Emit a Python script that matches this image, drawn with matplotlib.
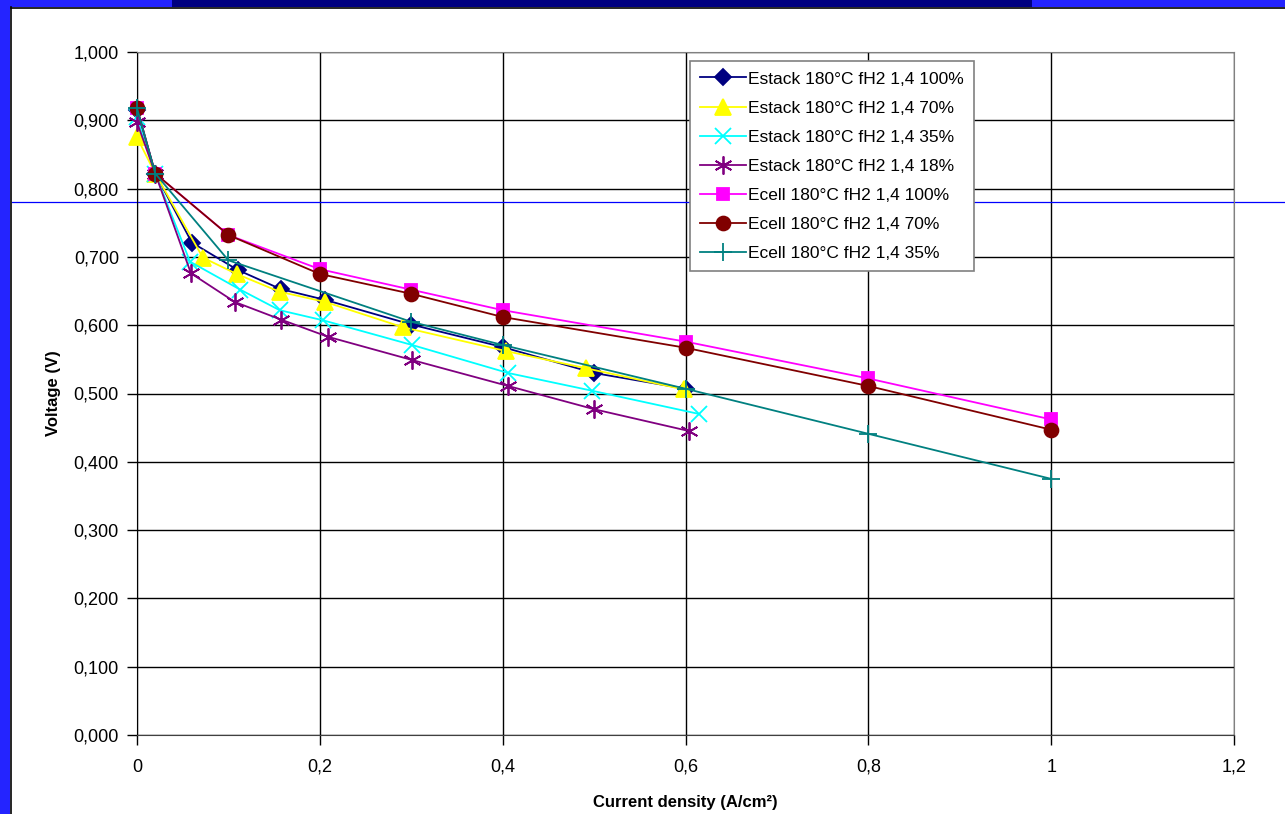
import matplotlib
matplotlib.use("Agg")
import matplotlib.pyplot as plt
from matplotlib.lines import Line2D
from matplotlib.patches import Rectangle
from matplotlib.ticker import FuncFormatter

plt.rcParams["font.family"] = ["Liberation Sans", "DejaVu Sans"]

# --------------------------------------------------------------------
# Data
# --------------------------------------------------------------------

estack_100_x = [0, 0.02, 0.06, 0.11, 0.157, 0.206, 0.30, 0.40, 0.50, 0.60]
estack_100_y = [0.915, 0.822, 0.721, 0.681, 0.653, 0.637, 0.601, 0.568, 0.530, 0.507]

estack_70_x = [0, 0.02, 0.072, 0.109, 0.156, 0.206, 0.291, 0.404, 0.491, 0.598]
estack_70_y = [0.875, 0.822, 0.699, 0.675, 0.649, 0.634, 0.597, 0.562, 0.537, 0.506]

estack_35_x = [0, 0.02, 0.058, 0.113, 0.156, 0.204, 0.301, 0.406, 0.498, 0.615]
estack_35_y = [0.905, 0.822, 0.693, 0.652, 0.622, 0.607, 0.571, 0.530, 0.504, 0.470]

estack_18_x = [0, 0.02, 0.059, 0.107, 0.158, 0.209, 0.301, 0.406, 0.500, 0.604]
estack_18_y = [0.897, 0.822, 0.676, 0.634, 0.608, 0.583, 0.549, 0.511, 0.477, 0.445]

ecell_100_x = [0, 0.02, 0.1, 0.2, 0.3, 0.4, 0.6, 0.8, 1.0]
ecell_100_y = [0.918, 0.822, 0.732, 0.682, 0.652, 0.622, 0.576, 0.522, 0.462]

ecell_70_x = [0, 0.02, 0.1, 0.2, 0.3, 0.4, 0.6, 0.8, 1.0]
ecell_70_y = [0.918, 0.822, 0.732, 0.675, 0.646, 0.612, 0.567, 0.511, 0.447]

ecell_35_x = [0, 0.02, 0.1, 0.3, 0.4, 0.6, 0.8, 1.0]
ecell_35_y = [0.918, 0.822, 0.695, 0.605, 0.571, 0.507, 0.441, 0.375]

series = [
    ("Estack 180°C fH2 1,4 100%", estack_100_x, estack_100_y, "#000080", "D", 8),
    ("Estack 180°C fH2 1,4 70%", estack_70_x, estack_70_y, "#FFFF00", "^", 11),
    ("Estack 180°C fH2 1,4 35%", estack_35_x, estack_35_y, "#00FFFF", "x", 11),
    ("Estack 180°C fH2 1,4 18%", estack_18_x, estack_18_y, "#800080", (6, 2, 0), 13),
    ("Ecell 180°C fH2 1,4 100%", ecell_100_x, ecell_100_y, "#FF00FF", "s", 9),
    ("Ecell 180°C fH2 1,4 70%", ecell_70_x, ecell_70_y, "#800000", "o", 10),
    ("Ecell 180°C fH2 1,4 35%", ecell_35_x, ecell_35_y, "#008080", "+", 13),
]

# --------------------------------------------------------------------
# Figure
# --------------------------------------------------------------------

fig = plt.figure(figsize=(12.85, 8.14), dpi=100)
fig.patch.set_facecolor("white")

# slide frame (blue border around the chart)
fig.add_artist(Rectangle((0, 0), 10 / 1285, 1, transform=fig.transFigure,
                         facecolor="#2424ff", edgecolor="none"))
fig.add_artist(Rectangle((0, 1 - 7 / 814), 172 / 1285, 7 / 814, transform=fig.transFigure,
                         facecolor="#2424ff", edgecolor="none"))
fig.add_artist(Rectangle((172 / 1285, 1 - 7 / 814), 860 / 1285, 7 / 814, transform=fig.transFigure,
                         facecolor="#000080", edgecolor="none"))
fig.add_artist(Rectangle((1032 / 1285, 1 - 7 / 814), 253 / 1285, 7 / 814, transform=fig.transFigure,
                         facecolor="#2424ff", edgecolor="none"))
fig.add_artist(Line2D([10.5 / 1285, 10.5 / 1285], [0, 1 - 7 / 814], transform=fig.transFigure,
                      color="black", linewidth=1.2))
fig.add_artist(Line2D([10.5 / 1285, 1], [1 - 7.5 / 814, 1 - 7.5 / 814], transform=fig.transFigure,
                      color="black", linewidth=1.2))

ax = fig.add_axes([137 / 1285, 1 - 735 / 814, 1097 / 1285, 683 / 814])

for label, xs, ys, color, marker, size in series:

    ax.plot(xs, ys, color=color, linewidth=1.3, marker=marker, markersize=size,
            markerfacecolor=color, markeredgecolor=color, markeredgewidth=1.3,
            label=label, clip_on=False, zorder=3)

ax.set_xlim(0, 1.2)
ax.set_ylim(0, 1.0)
ax.set_xticks([0, 0.2, 0.4, 0.6, 0.8, 1.0, 1.2])
ax.set_yticks([0.1 * i for i in range(11)])

ax.xaxis.set_major_formatter(FuncFormatter(lambda v, p: f"{v:g}".replace(".", ",")))
ax.yaxis.set_major_formatter(FuncFormatter(lambda v, p: f"{v:.3f}".replace(".", ",")))

ax.grid(True, color="black", linewidth=1.0, zorder=0)
ax.set_axisbelow(True)

for side in ["top", "right"]:
    ax.spines[side].set_color("#808080")
ax.spines["left"].set_color("black")
ax.spines["bottom"].set_color("#404040")

ax.tick_params(axis="both", direction="out", length=7, width=1, labelsize=13, colors="black")
ax.tick_params(axis="y", pad=6)
ax.tick_params(axis="x", pad=10)

ax.set_xlabel("Current density (A/cm²)", fontsize=12, fontweight="bold", labelpad=14)
ax.set_ylabel("Voltage (V)", fontsize=12, fontweight="bold", labelpad=9)

# stray horizontal slide line crossing the chart
ax.add_line(Line2D([12 / 1285, 1], [1 - 201.5 / 814, 1 - 201.5 / 814], transform=fig.transFigure,
                   color="#0000ff", linewidth=0.9, clip_on=False, zorder=2.5))

leg = ax.legend(loc="upper left", bbox_to_anchor=((690 - 137) / 1097, (735 - 61) / 683),
                fontsize=12.5, frameon=True, fancybox=False, framealpha=1,
                edgecolor="#808080", handlelength=2.6, borderpad=0.6,
                labelspacing=0.8, handletextpad=0.15, borderaxespad=0)
leg.get_frame().set_linewidth(1.2)
leg.set_zorder(5)

fig.savefig("out.png", dpi=100)
